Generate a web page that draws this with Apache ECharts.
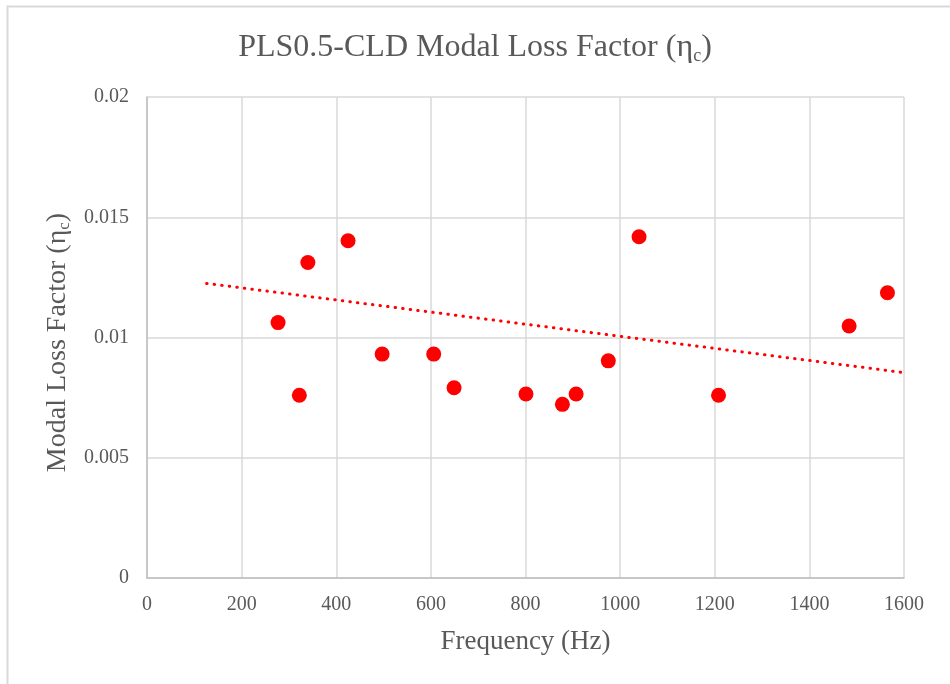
<!DOCTYPE html>
<html>
<head>
<meta charset="utf-8">
<script src="https://cdn.jsdelivr.net/npm/echarts@6/dist/echarts.min.js"></script>
<style>html,body{margin:0;padding:0;background:#fff}#c{width:950px;height:684px}</style>
</head>
<body>
<div id="c"></div>
<script>
var frequencies = [277, 322, 340, 425, 497, 606, 649, 801, 878, 907, 975, 1040, 1208, 1484, 1565];
var lossFactors = [0.01062, 0.0076, 0.01312, 0.01402, 0.00931, 0.00931, 0.00791, 0.00765, 0.00722, 0.00765, 0.00903, 0.01419, 0.0076, 0.01048, 0.01186];
var trendX = [126, 1600];
var trendY = [0.01225, 0.00854];
var xTicks = [0, 200, 400, 600, 800, 1000, 1200, 1400, 1600];
var yTicks = [0, 0.005, 0.01, 0.015, 0.02];

var chart = echarts.init(document.getElementById('c'), null, {renderer: 'canvas'});
var points = frequencies.map(function (f, i) { return [f, lossFactors[i]]; });
var trend = trendX.map(function (f, i) { return [f, trendY[i]]; });
var font = '"Liberation Serif", "Times New Roman", serif';

chart.setOption({
  animation: false,
  backgroundColor: '#fff',
  graphic: [{
    type: 'polyline',
    shape: {points: [[7.5, 700], [7.5, 6.5], [960, 6.5]]},
    style: {stroke: '#d9d9d9', lineWidth: 2, fill: null},
    silent: true
  }],
  title: {
    text: 'PLS0.5-CLD Modal Loss Factor (η{s|c})',
    left: 'center',
    top: 26,
    textStyle: {
      fontFamily: font, fontSize: 32, fontWeight: 'normal', color: '#595959',
      rich: {s: {fontFamily: font, fontSize: 18, color: '#595959', padding: [16, 0, 0, 0]}}
    }
  },
  grid: {left: 147, right: 46, top: 97, bottom: 106, containLabel: false},
  xAxis: {
    type: 'value', min: 0, max: 1600, interval: 200,
    name: 'Frequency (Hz)', nameLocation: 'middle', nameGap: 50,
    nameTextStyle: {fontFamily: font, fontSize: 27, color: '#595959'},
    axisLine: {show: true, lineStyle: {color: '#bfbfbf', width: 1.5}},
    axisTick: {show: false},
    axisLabel: {fontFamily: font, fontSize: 20, color: '#595959', margin: 17,
      formatter: function (v) { return String(v); }},
    splitLine: {show: true, lineStyle: {color: '#d9d9d9', width: 1.5}}
  },
  yAxis: {
    type: 'value', min: 0, max: 0.02, interval: 0.005,
    name: 'Modal Loss Factor (η{s|c})', nameLocation: 'middle', nameGap: 60, nameRotate: 90,
    nameTextStyle: {fontFamily: font, fontSize: 28, color: '#595959', padding: [0, 10, 0, 0],
      rich: {s: {fontFamily: font, fontSize: 17, color: '#595959', padding: [14, 0, 0, 0]}}},
    axisLine: {show: true, lineStyle: {color: '#bfbfbf', width: 1.5}},
    axisTick: {show: false},
    axisLabel: {fontFamily: font, fontSize: 20, color: '#595959', margin: 18,
      formatter: function (v) { return String(+v.toFixed(4)); }},
    splitLine: {show: true, lineStyle: {color: '#d9d9d9', width: 1.5}}
  },
  series: [
    {
      type: 'line', data: trend, symbol: 'none', silent: true,
      lineStyle: {color: '#ff0000', width: 3, type: [0.5, 7.1], cap: 'round'},
      z: 2
    },
    {
      type: 'scatter', data: points, symbol: 'circle', symbolSize: 15,
      itemStyle: {color: '#ff0000', opacity: 1}, z: 3
    }
  ]
});
</script>
</body>
</html>
